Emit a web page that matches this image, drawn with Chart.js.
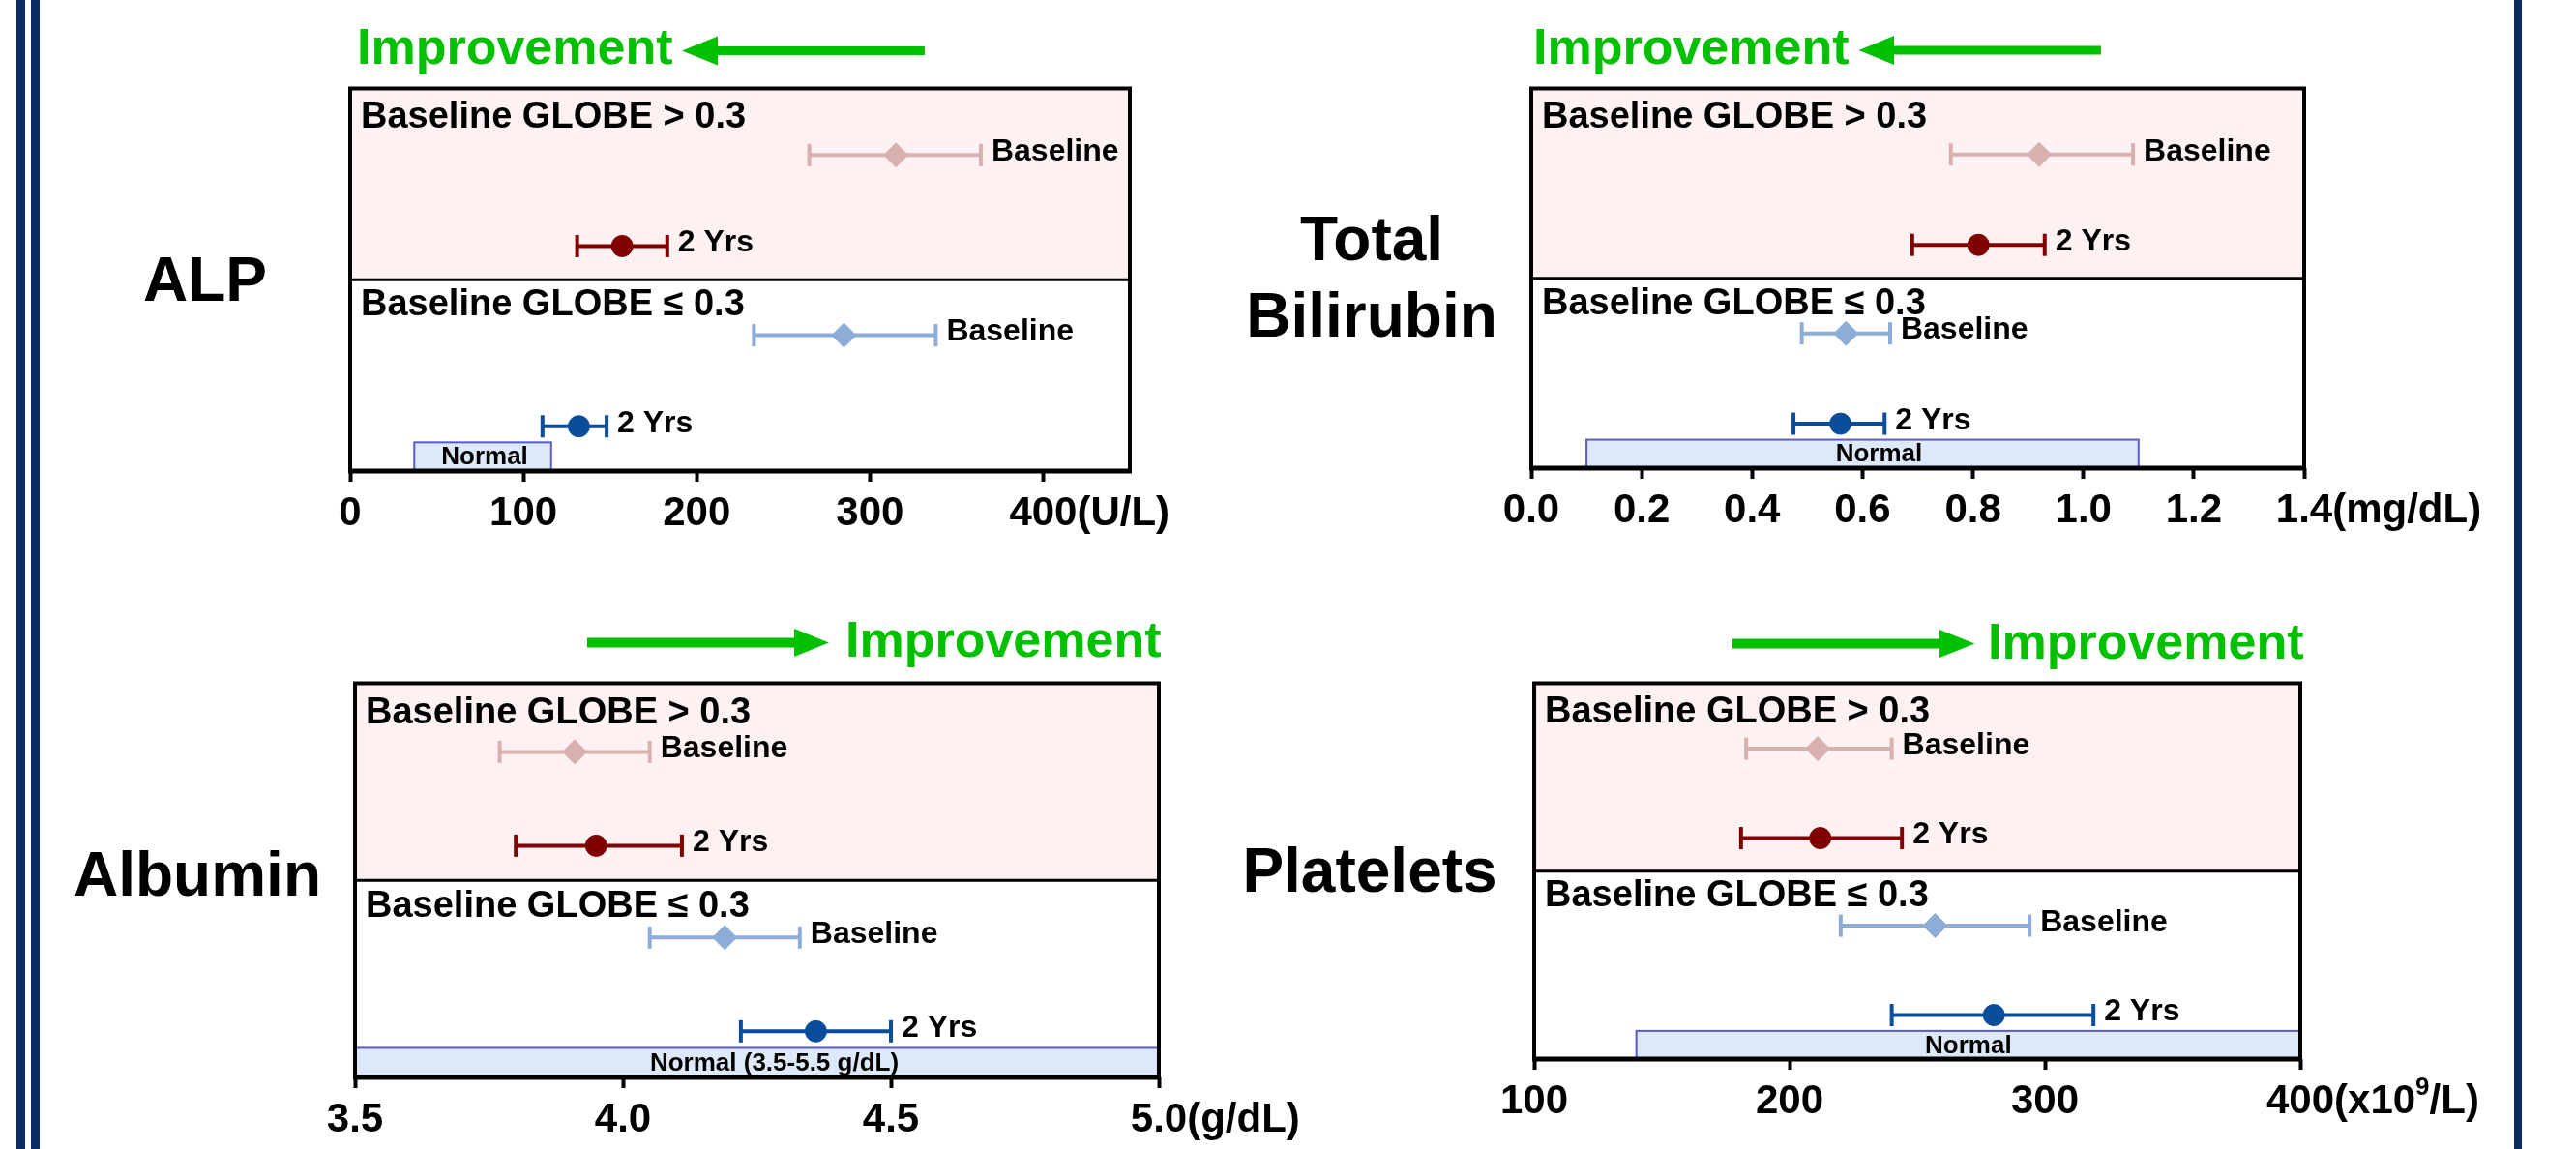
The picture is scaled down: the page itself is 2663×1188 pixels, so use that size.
<!DOCTYPE html>
<html><head><meta charset="utf-8">
<script src="https://cdn.jsdelivr.net/npm/chart.js@4.4.1/dist/chart.umd.min.js"></script>
<style>
html,body{margin:0;padding:0;background:#fff;}
body{width:2663px;height:1188px;position:relative;overflow:hidden;font-family:"Liberation Sans",Arial,sans-serif;font-weight:bold;}
canvas{position:absolute;}
.impr{position:absolute;white-space:nowrap;font-size:52px;line-height:52px;color:#00c000;}
.ttl{position:absolute;white-space:nowrap;font-size:64px;line-height:64px;color:#000;text-align:center;width:400px;}
.vline{position:absolute;top:0;height:1188px;background:#0c2d64;}
svg{position:absolute;left:0;top:0;}
</style></head><body>
<div class="vline" style="left:17px;width:9px"></div>
<div class="vline" style="left:32px;width:9px"></div>
<div class="vline" style="left:2599px;width:8px"></div>

<svg width="2663" height="1188">
  <polygon fill="#00c000" points="705,52.5 742,37.5 742,48 956,48 956,57 742,57 742,67.5"/>
  <polygon fill="#00c000" points="1921.5,52 1958,37 1958,47.5 2172,47.5 2172,56.5 1958,56.5 1958,67"/>
  <polygon fill="#00c000" points="607,659.5 821,659.5 821,650 857,664.5 821,679 821,669.5 607,669.5"/>
  <polygon fill="#00c000" points="1791,660.5 2005,660.5 2005,651 2041.5,665.5 2005,680 2005,670.5 1791,670.5"/>
</svg>

<div class="impr" style="left:369px;top:22px">Improvement</div>
<div class="impr" style="left:1585px;top:22px">Improvement</div>
<div class="impr" style="left:874px;top:635px">Improvement</div>
<div class="impr" style="left:2055px;top:637px">Improvement</div>

<div class="ttl" style="left:12px;top:257px">ALP</div>
<div class="ttl" style="left:1218px;top:215px">Total</div>
<div class="ttl" style="left:1218px;top:294px">Bilirubin</div>
<div class="ttl" style="left:4px;top:872px">Albumin</div>
<div class="ttl" style="left:1216px;top:868px">Platelets</div>

<canvas id="cALP"></canvas>
<canvas id="cBILI"></canvas>
<canvas id="cALB"></canvas>
<canvas id="cPLT"></canvas>

<script>
// ---------------- DATA ----------------
// row order: [GLOBE>0.3 Baseline, GLOBE>0.3 2 Yrs, GLOBE<=0.3 Baseline, GLOBE<=0.3 2 Yrs]
const GROUPS = ['Baseline GLOBE > 0.3', 'Baseline GLOBE \u2264 0.3'];
const ROW_LABELS = ['Baseline', '2 Yrs', 'Baseline', '2 Yrs'];

const ALP_MEAN = [315, 157, 285, 132];
const ALP_LOW  = [265, 131, 233, 111];
const ALP_HIGH = [364, 183, 338, 148];
const ALP_NORMAL = [37, 116];
const ALP_TICKS = [0, 100, 200, 300, 400];
const ALP_RANGE = [0, 450];

const BILI_MEAN = [0.92, 0.81, 0.57, 0.56];
const BILI_LOW  = [0.76, 0.69, 0.49, 0.475];
const BILI_HIGH = [1.09, 0.93, 0.65, 0.64];
const BILI_NORMAL = [0.1, 1.1];
const BILI_TICKS = [0.0, 0.2, 0.4, 0.6, 0.8, 1.0, 1.2, 1.4];
const BILI_RANGE = [0, 1.4];

const ALB_MEAN = [3.91, 3.95, 4.19, 4.36];
const ALB_LOW  = [3.77, 3.80, 4.05, 4.22];
const ALB_HIGH = [4.05, 4.11, 4.33, 4.50];
const ALB_NORMAL = [3.5, 5.5];
const ALB_TICKS = [3.5, 4.0, 4.5, 5.0];
const ALB_RANGE = [3.5, 5.0];

const PLT_MEAN = [211, 212, 257, 280];
const PLT_LOW  = [183, 181, 220, 240];
const PLT_HIGH = [240, 244, 294, 319];
const PLT_NORMAL = [140, 450];
const PLT_TICKS = [100, 200, 300, 400];
const PLT_RANGE = [100, 400];

// ---------------- LAYOUT / STYLE ----------------
const FONT = '"Liberation Sans", Arial, sans-serif';
Chart.defaults.font.family = FONT;
const ROW_POS = [17.4, 41.2, 64.5, 88.3];
const HEADER_POS = [7.7, 56.7];
const DIVIDER = 50;
const NORMAL_TOP = 92.5;
const COLORS = ['#d9b0b0', '#800000', '#8badd8', '#0a4e9b'];
const PAD_L = 40, PAD_R = 240, PAD_T = 6, AXIS_H = 80;

const decoPlugin = {
  id: 'deco',
  beforeDatasetsDraw(chart) {
    const p = chart.options.plugins.deco;
    const {ctx, chartArea: a, scales: {x, y}} = chart;
    ctx.save();
    const yd = y.getPixelForValue(DIVIDER);
    ctx.fillStyle = '#fdf1f1';
    ctx.fillRect(a.left, a.top, a.right - a.left, yd - a.top);
    const nx1 = Math.max(x.getPixelForValue(p.normal[0]), a.left);
    const nx2 = Math.min(x.getPixelForValue(p.normal[1]), a.right);
    const ny1 = y.getPixelForValue(NORMAL_TOP), ny2 = a.bottom;
    ctx.fillStyle = '#dde8f9';
    ctx.fillRect(nx1, ny1, nx2 - nx1, ny2 - ny1);
    ctx.strokeStyle = '#5a5ac8';
    ctx.lineWidth = 2;
    ctx.strokeRect(nx1, ny1, nx2 - nx1, ny2 - ny1);
    ctx.fillStyle = '#000';
    ctx.font = 'bold 26px ' + FONT;
    ctx.textAlign = 'center';
    ctx.textBaseline = 'middle';
    ctx.fillText(p.normalLabel, (nx1 + nx2) / 2 + p.labelDx, (ny1 + ny2) / 2 + 1);
    ctx.restore();
  },
  afterDraw(chart) {
    const p = chart.options.plugins.deco;
    const {ctx, chartArea: a, scales: {x, y}} = chart;
    ctx.save();
    const yd = y.getPixelForValue(DIVIDER);
    ctx.strokeStyle = '#000';
    ctx.lineWidth = 3;
    ctx.beginPath(); ctx.moveTo(a.left, yd); ctx.lineTo(a.right, yd); ctx.stroke();
    ctx.lineWidth = 4;
    ctx.beginPath();
    ctx.moveTo(a.left, a.bottom); ctx.lineTo(a.left, a.top); ctx.lineTo(a.right, a.top); ctx.lineTo(a.right, a.bottom);
    ctx.stroke();
    ctx.lineWidth = 5;
    ctx.beginPath(); ctx.moveTo(a.left - 2, a.bottom); ctx.lineTo(a.right + 2, a.bottom); ctx.stroke();
    ctx.fillStyle = '#000';
    ctx.textAlign = 'left';
    ctx.textBaseline = 'middle';
    ctx.font = 'bold 38px ' + FONT;
    GROUPS.forEach((g, i) => ctx.fillText(g, a.left + 11, y.getPixelForValue(HEADER_POS[i])));
    ctx.font = 'bold 32px ' + FONT;
    ROW_LABELS.forEach((lab, i) => {
      ctx.fillText(lab, x.getPixelForValue(p.high[i]) + 11, y.getPixelForValue(ROW_POS[i]) - 3);
    });
    const items = x.getLabelItems(a);
    const last = items[items.length - 1];
    const tf = 'bold 42px ' + FONT;
    ctx.font = tf;
    const lw = ctx.measureText(String(last.label)).width;
    let ux = last.options.translation[0] + lw / 2;
    const uy = last.options.translation[1] + last.textOffset;
    p.unit.forEach(part => {
      if (part.sup) {
        ctx.font = 'bold 26px ' + FONT;
        ctx.fillText(part.t, ux, uy - 14);
      } else {
        ctx.font = tf;
        ctx.fillText(part.t, ux, uy);
      }
      ux += ctx.measureText(part.t).width;
    });
    ctx.restore();
  }
};

function makePanel(id, area, mean, low, high, normal, normalLabel, labelDx, ticks, range, decimals, unit) {
  const cv = document.getElementById(id);
  const w = area.R - area.L + PAD_L + PAD_R;
  const h = area.B - area.T + PAD_T + AXIS_H;
  cv.width = w; cv.height = h;
  cv.style.width = w + 'px'; cv.style.height = h + 'px';
  cv.style.left = (area.L - PAD_L) + 'px';
  cv.style.top = (area.T - PAD_T) + 'px';
  const datasets = [];
  for (let i = 0; i < 4; i++) {
    const c = COLORS[i];
    datasets.push({
      data: [{x: low[i], y: ROW_POS[i]}, {x: high[i], y: ROW_POS[i]}],
      showLine: true, borderColor: c, borderWidth: 4,
      pointStyle: 'line', pointRotation: 90, pointRadius: 11.5,
      pointBorderColor: c, pointBorderWidth: 4, pointBackgroundColor: c, clip: false
    });
    datasets.push({
      data: [{x: mean[i], y: ROW_POS[i]}],
      pointStyle: i % 2 === 0 ? 'rectRot' : 'circle',
      pointRadius: i % 2 === 0 ? 12.5 : 11,
      pointBackgroundColor: c, pointBorderColor: c, pointBorderWidth: 1, clip: false
    });
  }
  new Chart(cv, {
    type: 'scatter',
    data: {datasets},
    plugins: [decoPlugin],
    options: {
      responsive: false, animation: false, devicePixelRatio: 1, events: [],
      layout: {padding: {left: PAD_L, right: PAD_R, top: PAD_T, bottom: 0}},
      plugins: {
        legend: {display: false}, tooltip: {enabled: false},
        deco: {normal, normalLabel, labelDx, high, unit}
      },
      scales: {
        x: {
          type: 'linear', position: 'bottom', min: range[0], max: range[1],
          afterBuildTicks: s => { s.ticks = ticks.map(v => ({value: v})); },
          afterFit: s => { s.height = AXIS_H; },
          ticks: {
            autoSkip: false, maxRotation: 0, padding: 8, color: '#000',
            font: {family: FONT, size: 42, weight: 'bold'},
            callback: v => Number(v).toFixed(decimals)
          },
          grid: {display: true, drawOnChartArea: false, drawTicks: true, tickLength: 11, tickWidth: 4, tickColor: '#000'},
          border: {display: false}
        },
        y: {type: 'linear', min: 0, max: 100, reverse: true, display: false}
      }
    }
  });
}

makePanel('cALP', {L: 362, T: 82, R: 1168, B: 487}, ALP_MEAN, ALP_LOW, ALP_HIGH, ALP_NORMAL, 'Normal', 2,
  ALP_TICKS, ALP_RANGE, 0, [{t: '(U/L)'}]);
makePanel('cBILI', {L: 1583, T: 82, R: 2382, B: 484}, BILI_MEAN, BILI_LOW, BILI_HIGH, BILI_NORMAL, 'Normal', 17,
  BILI_TICKS, BILI_RANGE, 1, [{t: '(mg/dL)'}]);
makePanel('cALB', {L: 367, T: 697, R: 1198, B: 1114}, ALB_MEAN, ALB_LOW, ALB_HIGH, ALB_NORMAL, 'Normal (3.5-5.5 g/dL)', 18,
  ALB_TICKS, ALB_RANGE, 1, [{t: '(g/dL)'}]);
makePanel('cPLT', {L: 1583, T: 697, R: 2378, B: 1095}, PLT_MEAN, PLT_LOW, PLT_HIGH, PLT_NORMAL, 'Normal', 0,
  PLT_TICKS, PLT_RANGE, 0, [{t: '(x10'}, {t: '9', sup: true}, {t: '/L)'}]);
</script>
</body></html>
